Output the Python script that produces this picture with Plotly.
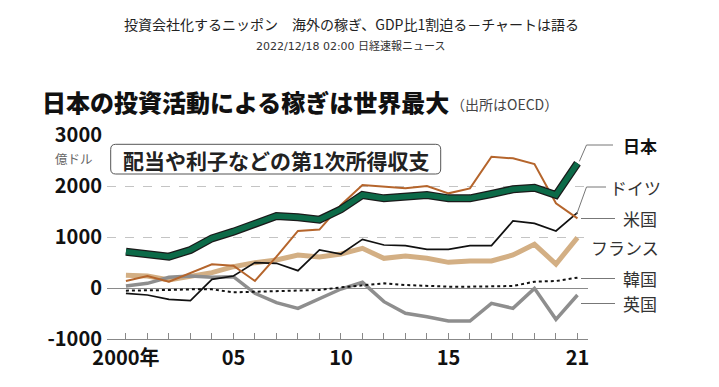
import plotly.graph_objects as go

# ---------------- data (億ドル) ----------------
years = list(range(2000, 2022))
japan = [712, 667, 614, 745, 974, 1105, 1255, 1412, 1386, 1340, 1542, 1824, 1758, 1804, 1824, 1758, 1758, 1843, 1935, 1967, 1824, 2444]
usa = [137, 235, 124, 288, 464, 438, 137, 614, 1118, 1145, 1627, 2020, 1987, 1954, 2000, 1856, 1954, 2575, 2542, 2431, 1660, 1366]
germany = [-105, -137, -222, -248, 170, 235, 497, 484, 340, 745, 667, 954, 843, 830, 758, 758, 830, 830, 1314, 1268, 1118, 1477]
france = [248, 235, 157, 222, 301, 418, 497, 549, 647, 608, 667, 778, 582, 627, 582, 503, 529, 529, 647, 856, 470, 987]
uk = [39, 91, 209, 235, 209, 222, -105, -287, -399, -212, -20, 111, -268, -497, -562, -647, -647, -301, -399, -7, -614, -137]
korea = [-52, -52, -39, -26, -26, -85, -72, -52, -39, -39, 13, 59, 91, 59, 39, 26, 26, 39, 39, 124, 137, 203]

x_tick_vals = years
x_tick_text = ["2000年" if y == 2000 else ("05" if y == 2005 else ("10" if y == 2010 else ("15" if y == 2015 else ("21" if y == 2021 else "")))) for y in years]
y_tick_vals = [-1000, 0, 1000, 2000, 3000]
y_tick_text = ["-1000", "0", "1000", "2000", "3000"]

series_labels = ["日本", "ドイツ", "米国", "フランス", "韓国", "英国"]

FONT = "Noto Sans CJK JP"
FONT_BLACK = "Noto Sans CJK JP Black, Noto Sans CJK JP"
W, H = 719, 387
L, R, T, B = 107, 131, 135, 48
PW, PH = W - L - R, H - T - B
XR = [1999.12, 2021.49]
YR = [-1000, 3000]


def px(p):
    return (p - L) / PW


def py(p):
    return (H - B - p) / PH


def dx(v):
    return (v - XR[0]) / (XR[1] - XR[0])


def dy(v):
    return (v - YR[0]) / (YR[1] - YR[0])


fig = go.Figure()

fig.add_trace(go.Scatter(x=years, y=france, mode="lines", line=dict(color="#d3af84", width=5), hoverinfo="skip"))
fig.add_trace(go.Scatter(x=years, y=uk, mode="lines", line=dict(color="#8e8e8e", width=3.5), hoverinfo="skip"))
fig.add_trace(go.Scatter(x=years, y=korea, mode="lines", line=dict(color="#111111", width=2, dash="dot"), hoverinfo="skip"))
fig.add_trace(go.Scatter(x=years, y=germany, mode="lines", line=dict(color="#111111", width=1.7), hoverinfo="skip"))
fig.add_trace(go.Scatter(x=years, y=usa, mode="lines", line=dict(color="#b5652c", width=2), hoverinfo="skip"))
fig.add_trace(go.Scatter(x=years, y=japan, mode="lines", line=dict(color="#1a1a1a", width=8), hoverinfo="skip"))
fig.add_trace(go.Scatter(x=years, y=japan, mode="lines", line=dict(color="#0c6a48", width=5.5), hoverinfo="skip"))

shapes = []
# rounded box
x0b, x1b, y0b, y1b = px(110.7), px(440.7), py(174), py(144.3)
rx, ry = 5 / PW, 5 / PH
path = (f"M {x0b+rx},{y0b} L {x1b-rx},{y0b} Q {x1b},{y0b} {x1b},{y0b+ry} "
        f"L {x1b},{y1b-ry} Q {x1b},{y1b} {x1b-rx},{y1b} L {x0b+rx},{y1b} "
        f"Q {x0b},{y1b} {x0b},{y1b-ry} L {x0b},{y0b+ry} Q {x0b},{y0b} {x0b+rx},{y0b} Z")
shapes.append(dict(type="path", path=path, xref="paper", yref="paper",
                   line=dict(color="#555555", width=1), fillcolor="white", layer="above"))

lc = dict(color="#777777", width=1)
# leader lines
jx, jy = dx(years[-1]) + 0.004, dy(japan[-1]) + 0.01
shapes.append(dict(type="path", xref="paper", yref="paper", line=lc,
                   path=f"M {jx},{jy} L {px(586.5)},{py(145)} L {px(613)},{py(145)}"))
gx, gy = dx(years[-1]) - 0.002, dy(germany[-1]) - 0.01
shapes.append(dict(type="path", xref="paper", yref="paper", line=lc,
                   path=f"M {gx},{gy} L {px(586.5)},{py(187)} L {px(606)},{py(187)}"))
for yy in [218.5, 278.5, 303.5]:
    shapes.append(dict(type="line", xref="paper", yref="paper", line=lc,
                       x0=px(581), x1=px(615), y0=py(yy), y1=py(yy)))

ann = []
ann.append(dict(text="投資会社化するニッポン　海外の稼ぎ、GDP比1割迫る－チャートは語る",
                x=px(351), y=py(24), xref="paper", yref="paper", xanchor="center", yanchor="middle",
                showarrow=False, font=dict(family=FONT, size=14, color="#222222")))
ann.append(dict(text="2022/12/18 02:00 日経速報ニュース",
                x=px(351), y=py(46), xref="paper", yref="paper", xanchor="center", yanchor="middle",
                showarrow=False, font=dict(family="DejaVu Sans, " + FONT, size=11, color="#333333")))
ann.append(dict(text="日本の投資活動による稼ぎは世界最大",
                x=px(40), y=py(102), xref="paper", yref="paper", xanchor="left", yanchor="middle",
                showarrow=False, font=dict(family=FONT_BLACK, size=24, color="#111111", weight=900)))
ann.append(dict(text="（出所はOECD）",
                x=px(449), y=py(104), xref="paper", yref="paper", xanchor="left", yanchor="middle",
                showarrow=False, font=dict(family=FONT, size=14, color="#444444")))
ann.append(dict(text="配当や利子などの第1次所得収支",
                x=px(275.7), y=py(159.5), xref="paper", yref="paper", xanchor="center", yanchor="middle",
                showarrow=False, font=dict(family=FONT, size=21, color="#222222", weight="bold")))
ann.append(dict(text="億ドル",
                x=px(95), y=py(158), xref="paper", yref="paper", xanchor="right", yanchor="middle",
                showarrow=False, font=dict(family=FONT, size=12.5, color="#666666")))

label_pos = [(621, 145, True), (608, 187, False), (621, 218.5, False), (589, 247, False), (621, 278.5, False), (621, 303.5, False)]
for name, (lx, ly, bold) in zip(series_labels, label_pos):
    ann.append(dict(text=f"<b>{name}</b>" if bold else name,
                    x=px(lx), y=py(ly), xref="paper", yref="paper", xanchor="left", yanchor="middle",
                    showarrow=False, font=dict(family=FONT, size=17, color="#111111" if bold else "#333333")))

fig.update_layout(
    width=W, height=H,
    margin=dict(l=L, r=R, t=T, b=B),
    paper_bgcolor="white", plot_bgcolor="white",
    showlegend=False, hovermode=False,
    shapes=shapes, annotations=ann,
    xaxis=dict(range=XR, tickvals=x_tick_vals, ticktext=x_tick_text, ticks="inside", ticklen=6,
               tickcolor="#888888", tickwidth=1, showline=True, linecolor="#888888", linewidth=1,
               showgrid=False, zeroline=False, ticklabelstandoff=1,
               tickfont=dict(family=FONT, size=20, color="#111111", weight="bold")),
    yaxis=dict(range=YR, tickvals=y_tick_vals, ticktext=y_tick_text, ticks="", showline=False,
               showgrid=True, gridcolor="#c4c4c4", griddash="dash", gridwidth=1,
               zeroline=True, zerolinecolor="#8a8a8a", zerolinewidth=1, ticklabelstandoff=4,
               tickfont=dict(family=FONT, size=20, color="#111111", weight="bold")),
)

fig.write_html("out.html", config={"displayModeBar": False},
               post_script="document.body.style.margin='0';document.body.style.padding='0';")
